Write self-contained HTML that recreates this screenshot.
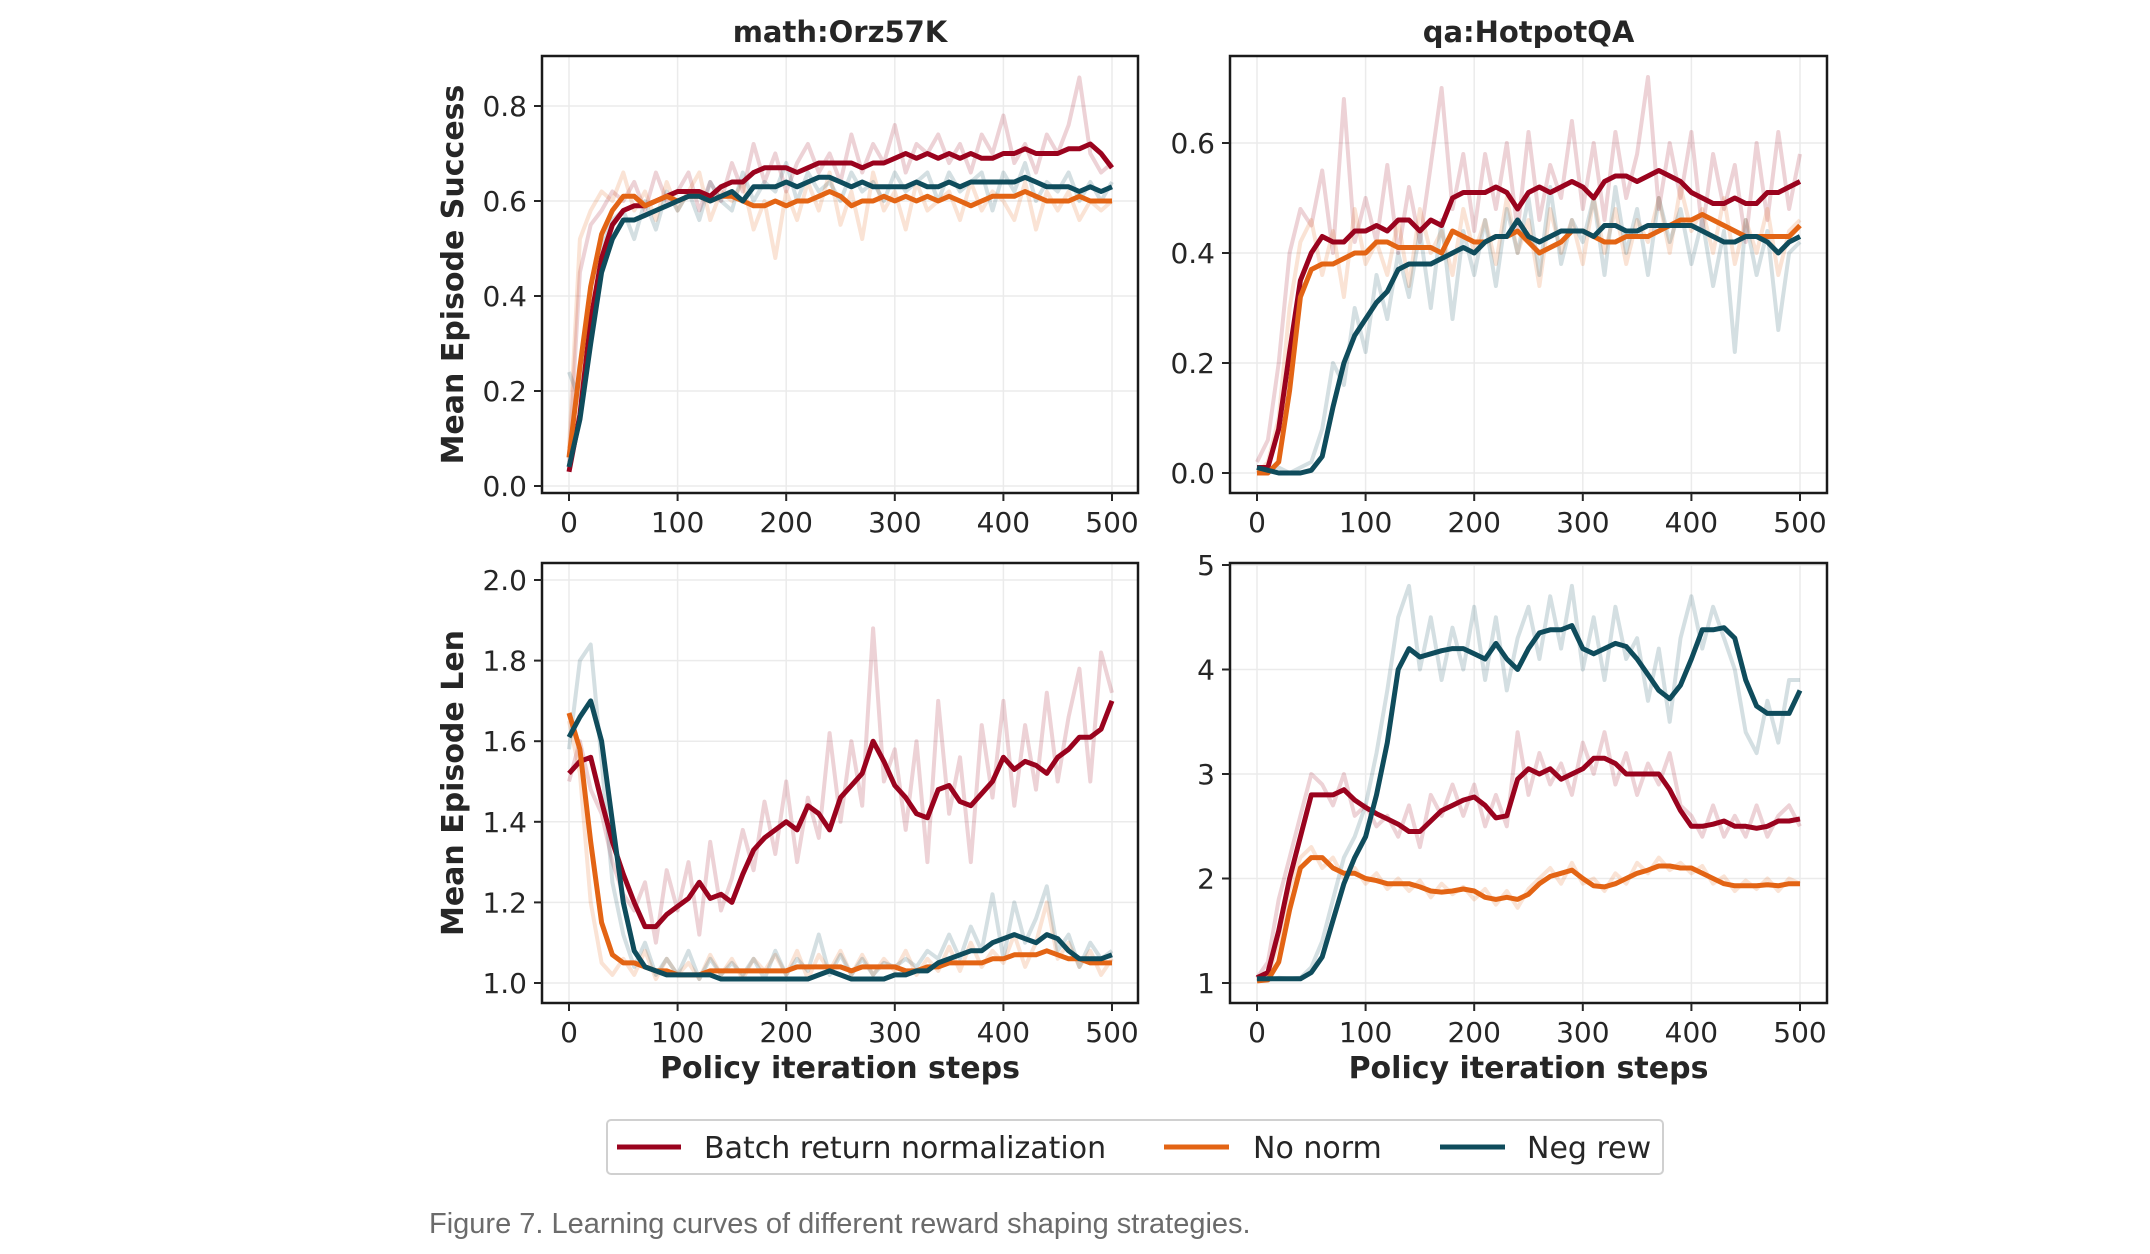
<!DOCTYPE html>
<html><head><meta charset="utf-8">
<style>
html,body{margin:0;padding:0;background:#fff;}
svg{display:block;}
text{font-family:"DejaVu Sans","Liberation Sans",sans-serif;fill:#262626;}
</style></head>
<body>
<svg id="fig" width="2150" height="1254" viewBox="0 0 2150 1254" xmlns="http://www.w3.org/2000/svg">
  <g id="legend">
    <rect x="607" y="1120" width="1056" height="54" rx="4" fill="#fff" stroke="#d0d0d0" stroke-width="2"/>
    <g>
      <line x1="617" y1="1147" x2="681" y2="1147" stroke="#9a031e" stroke-width="5"/>
      <text x="704" y="1158" font-size="30">Batch return normalization</text>
    </g>
    <g>
      <line x1="1164" y1="1147" x2="1229" y2="1147" stroke="#e36414" stroke-width="5"/>
      <text x="1253" y="1158" font-size="30">No norm</text>
    </g>
    <g>
      <line x1="1440" y1="1147" x2="1505" y2="1147" stroke="#0f4c5c" stroke-width="5"/>
      <text x="1527" y="1158" font-size="30">Neg rew</text>
    </g>
  </g>
  <text x="429" y="1233" font-size="29" style="font-family:'Liberation Sans',sans-serif;fill:#6b6b6b">Figure 7. Learning curves of different reward shaping strategies.</text>
</svg>
<script>
// x positions (steps) shared by all series
const steps = [0,10,20,30,40,50,60,70,80,90,100,110,120,130,140,150,160,170,180,190,200,210,220,230,240,250,260,270,280,290,300,310,320,330,340,350,360,370,380,390,400,410,420,430,440,450,460,470,480,490,500];
const xTicks = [0,100,200,300,400,500];

// math:Orz57K success
const tlRed = [0.03,0.15,0.35,0.48,0.55,0.58,0.59,0.59,0.60,0.61,0.62,0.62,0.62,0.61,0.63,0.64,0.64,0.66,0.67,0.67,0.67,0.66,0.67,0.68,0.68,0.68,0.68,0.67,0.68,0.68,0.69,0.70,0.69,0.70,0.69,0.70,0.69,0.70,0.69,0.69,0.70,0.70,0.71,0.70,0.70,0.70,0.71,0.71,0.72,0.70,0.67];
const tlOrange = [0.06,0.25,0.42,0.53,0.58,0.61,0.61,0.59,0.60,0.61,0.60,0.61,0.61,0.60,0.61,0.61,0.60,0.59,0.59,0.60,0.59,0.60,0.60,0.61,0.62,0.61,0.59,0.60,0.60,0.61,0.60,0.61,0.60,0.61,0.60,0.61,0.60,0.59,0.60,0.61,0.61,0.61,0.62,0.61,0.60,0.60,0.60,0.61,0.60,0.60,0.60];
const tlTeal = [0.04,0.14,0.30,0.45,0.52,0.56,0.56,0.57,0.58,0.59,0.60,0.61,0.61,0.60,0.61,0.62,0.60,0.63,0.63,0.63,0.64,0.63,0.64,0.65,0.65,0.64,0.63,0.64,0.63,0.63,0.63,0.63,0.64,0.63,0.63,0.64,0.63,0.64,0.64,0.64,0.64,0.64,0.65,0.64,0.63,0.63,0.63,0.62,0.63,0.62,0.63];
const tlRedRaw = [0.05,0.45,0.55,0.58,0.62,0.60,0.64,0.58,0.66,0.60,0.62,0.66,0.58,0.64,0.60,0.68,0.62,0.72,0.64,0.70,0.62,0.68,0.72,0.66,0.70,0.64,0.74,0.66,0.72,0.68,0.76,0.66,0.72,0.70,0.74,0.68,0.72,0.66,0.74,0.70,0.78,0.68,0.72,0.66,0.74,0.70,0.76,0.86,0.70,0.66,0.68];
const tlOrangeRaw = [0.08,0.52,0.58,0.62,0.60,0.66,0.58,0.62,0.56,0.64,0.58,0.62,0.66,0.56,0.62,0.60,0.64,0.54,0.60,0.48,0.62,0.56,0.64,0.58,0.66,0.55,0.62,0.52,0.66,0.58,0.62,0.54,0.64,0.58,0.60,0.62,0.56,0.64,0.58,0.62,0.60,0.56,0.64,0.54,0.62,0.58,0.62,0.56,0.60,0.58,0.60];
const tlTealRaw = [0.24,0.18,0.33,0.50,0.56,0.58,0.52,0.60,0.54,0.62,0.58,0.62,0.56,0.64,0.60,0.58,0.66,0.60,0.64,0.62,0.68,0.60,0.66,0.62,0.64,0.60,0.66,0.62,0.64,0.60,0.66,0.62,0.64,0.66,0.60,0.66,0.62,0.64,0.66,0.58,0.66,0.62,0.68,0.60,0.64,0.62,0.66,0.60,0.64,0.60,0.64];

// qa:HotpotQA success
const trRed = [0.01,0.01,0.08,0.22,0.35,0.40,0.43,0.42,0.42,0.44,0.44,0.45,0.44,0.46,0.46,0.44,0.46,0.45,0.50,0.51,0.51,0.51,0.52,0.51,0.48,0.51,0.52,0.51,0.52,0.53,0.52,0.50,0.53,0.54,0.54,0.53,0.54,0.55,0.54,0.53,0.51,0.50,0.49,0.49,0.50,0.49,0.49,0.51,0.51,0.52,0.53];
const trOrange = [0.0,0.0,0.02,0.15,0.32,0.37,0.38,0.38,0.39,0.40,0.40,0.42,0.42,0.41,0.41,0.41,0.41,0.40,0.44,0.43,0.42,0.42,0.43,0.43,0.44,0.42,0.40,0.41,0.42,0.44,0.44,0.43,0.42,0.42,0.43,0.43,0.43,0.44,0.45,0.46,0.46,0.47,0.46,0.45,0.44,0.43,0.43,0.43,0.43,0.43,0.45];
const trTeal = [0.01,0.005,0.0,0.0,0.0,0.005,0.03,0.12,0.20,0.25,0.28,0.31,0.33,0.37,0.38,0.38,0.38,0.39,0.40,0.41,0.40,0.42,0.43,0.43,0.46,0.43,0.42,0.43,0.44,0.44,0.44,0.43,0.45,0.45,0.44,0.44,0.45,0.45,0.45,0.45,0.45,0.44,0.43,0.42,0.42,0.43,0.43,0.42,0.40,0.42,0.43];
const trRedRaw = [0.02,0.06,0.20,0.40,0.48,0.45,0.55,0.40,0.68,0.42,0.50,0.42,0.56,0.40,0.52,0.42,0.56,0.70,0.48,0.58,0.44,0.58,0.48,0.60,0.44,0.62,0.46,0.56,0.50,0.64,0.48,0.60,0.46,0.62,0.50,0.58,0.72,0.48,0.60,0.50,0.62,0.44,0.58,0.48,0.56,0.42,0.60,0.46,0.62,0.48,0.58];
const trOrangeRaw = [0.0,0.02,0.10,0.30,0.42,0.46,0.36,0.44,0.32,0.48,0.38,0.42,0.36,0.46,0.34,0.48,0.40,0.44,0.36,0.48,0.40,0.46,0.38,0.50,0.40,0.46,0.34,0.48,0.40,0.46,0.38,0.50,0.40,0.48,0.38,0.46,0.42,0.50,0.40,0.52,0.44,0.48,0.40,0.50,0.38,0.46,0.40,0.48,0.36,0.44,0.46];
const trTealRaw = [0.01,0.0,0.01,0.0,0.01,0.02,0.08,0.20,0.16,0.30,0.22,0.36,0.28,0.40,0.32,0.44,0.30,0.46,0.28,0.44,0.36,0.46,0.34,0.48,0.40,0.50,0.36,0.52,0.38,0.46,0.42,0.50,0.36,0.52,0.40,0.48,0.36,0.50,0.42,0.48,0.38,0.46,0.34,0.44,0.22,0.46,0.36,0.44,0.26,0.40,0.42];

// math:Orz57K length
const blRed = [1.52,1.55,1.56,1.45,1.35,1.27,1.20,1.14,1.14,1.17,1.19,1.21,1.25,1.21,1.22,1.20,1.27,1.33,1.36,1.38,1.40,1.38,1.44,1.42,1.38,1.46,1.49,1.52,1.60,1.55,1.49,1.46,1.42,1.41,1.48,1.49,1.45,1.44,1.47,1.50,1.56,1.53,1.55,1.54,1.52,1.56,1.58,1.61,1.61,1.63,1.70];
const blOrange = [1.67,1.58,1.35,1.15,1.07,1.05,1.05,1.04,1.03,1.03,1.02,1.02,1.02,1.03,1.03,1.03,1.03,1.03,1.03,1.03,1.03,1.04,1.04,1.04,1.04,1.04,1.03,1.04,1.04,1.04,1.04,1.03,1.03,1.04,1.04,1.05,1.05,1.05,1.05,1.06,1.06,1.07,1.07,1.07,1.08,1.07,1.06,1.06,1.05,1.05,1.05];
const blTeal = [1.61,1.66,1.70,1.60,1.40,1.20,1.08,1.04,1.03,1.02,1.02,1.02,1.02,1.02,1.01,1.01,1.01,1.01,1.01,1.01,1.01,1.01,1.01,1.02,1.03,1.02,1.01,1.01,1.01,1.01,1.02,1.02,1.03,1.03,1.05,1.06,1.07,1.08,1.08,1.10,1.11,1.12,1.11,1.10,1.12,1.11,1.08,1.06,1.06,1.06,1.07];
const blRedRaw = [1.50,1.60,1.48,1.42,1.30,1.22,1.18,1.25,1.10,1.28,1.18,1.30,1.12,1.35,1.18,1.26,1.38,1.28,1.45,1.32,1.50,1.30,1.46,1.36,1.62,1.40,1.60,1.44,1.88,1.50,1.58,1.38,1.60,1.30,1.70,1.42,1.56,1.30,1.64,1.46,1.70,1.44,1.64,1.48,1.72,1.50,1.66,1.78,1.50,1.82,1.72];
const blOrangeRaw = [1.65,1.52,1.20,1.05,1.02,1.06,1.02,1.08,1.01,1.06,1.02,1.05,1.01,1.07,1.02,1.06,1.01,1.06,1.03,1.07,1.02,1.08,1.01,1.07,1.03,1.08,1.02,1.07,1.02,1.06,1.03,1.08,1.02,1.06,1.03,1.09,1.03,1.10,1.04,1.08,1.05,1.12,1.04,1.10,1.20,1.06,1.10,1.04,1.08,1.02,1.06];
const blTealRaw = [1.58,1.80,1.84,1.55,1.25,1.12,1.04,1.10,1.02,1.06,1.02,1.08,1.01,1.06,1.02,1.05,1.02,1.06,1.01,1.08,1.02,1.06,1.03,1.12,1.02,1.07,1.02,1.06,1.02,1.05,1.04,1.06,1.04,1.08,1.06,1.12,1.06,1.14,1.08,1.22,1.06,1.20,1.10,1.16,1.24,1.08,1.12,1.04,1.10,1.06,1.08];

// qa:HotpotQA length
const brRed = [1.05,1.1,1.5,2.0,2.4,2.8,2.8,2.8,2.85,2.75,2.68,2.62,2.57,2.52,2.45,2.45,2.55,2.65,2.70,2.75,2.78,2.70,2.58,2.60,2.95,3.05,3.00,3.05,2.95,3.00,3.05,3.15,3.15,3.10,3.00,3.00,3.00,3.00,2.85,2.65,2.50,2.50,2.52,2.55,2.50,2.50,2.48,2.50,2.55,2.55,2.57];
const brOrange = [1.02,1.03,1.2,1.7,2.1,2.2,2.2,2.1,2.05,2.05,2.00,1.98,1.95,1.95,1.95,1.92,1.88,1.87,1.88,1.90,1.88,1.82,1.80,1.82,1.80,1.85,1.95,2.02,2.05,2.08,2.00,1.93,1.92,1.95,2.00,2.05,2.08,2.12,2.12,2.10,2.10,2.05,2.00,1.95,1.93,1.93,1.93,1.94,1.93,1.95,1.95];
const brTeal = [1.04,1.04,1.04,1.04,1.04,1.10,1.25,1.60,1.95,2.20,2.40,2.80,3.30,4.00,4.20,4.12,4.15,4.18,4.20,4.20,4.15,4.10,4.25,4.10,4.00,4.20,4.35,4.38,4.38,4.42,4.20,4.15,4.20,4.25,4.22,4.10,3.95,3.80,3.72,3.85,4.10,4.38,4.38,4.40,4.30,3.90,3.65,3.58,3.58,3.58,3.80];
const brRedRaw = [1.05,1.2,1.8,2.2,2.6,3.0,2.9,2.7,3.0,2.6,2.7,2.5,2.6,2.4,2.7,2.3,2.8,2.6,2.9,2.6,2.9,2.5,2.8,2.5,3.4,2.8,3.2,2.9,3.1,2.8,3.3,3.0,3.4,2.9,3.2,2.8,3.1,2.9,3.2,2.7,2.6,2.4,2.7,2.4,2.6,2.4,2.7,2.4,2.6,2.7,2.5];
const brOrangeRaw = [1.02,1.05,1.4,1.9,2.2,2.3,2.1,2.2,2.0,2.1,1.95,2.05,1.90,2.00,1.88,1.98,1.82,1.95,1.85,1.92,1.80,1.90,1.75,1.88,1.72,1.90,2.00,2.10,1.95,2.15,1.95,2.00,1.88,2.05,1.95,2.15,2.05,2.20,2.08,2.15,2.05,2.12,1.95,2.02,1.88,1.98,1.90,2.00,1.88,2.00,1.95];
const brTealRaw = [1.04,1.03,1.05,1.04,1.05,1.15,1.4,1.8,2.2,2.4,2.7,3.2,3.8,4.5,4.8,4.0,4.5,3.9,4.4,4.0,4.6,3.9,4.5,3.8,4.3,4.6,4.1,4.7,4.2,4.8,4.0,4.5,3.9,4.6,4.1,4.3,3.7,4.2,3.5,4.3,4.7,4.2,4.6,4.3,4.0,3.4,3.2,3.7,3.3,3.9,3.9];

const yTicksSuccessMath = [0.0,0.2,0.4,0.6,0.8];
const yTicksSuccessQA = [0.0,0.2,0.4,0.6];
const yTicksLenMath = [1.0,1.2,1.4,1.6,1.8,2.0];
const yTicksLenQA = [1,2,3,4,5];

const NS = "http://www.w3.org/2000/svg";
const svg = document.getElementById('fig');
const COLORS = {red:'#9a031e', orange:'#e36414', teal:'#0f4c5c'};

function mk(tag, attrs, parent){
  const e = document.createElementNS(NS, tag);
  for (const k in attrs) e.setAttribute(k, attrs[k]);
  (parent||svg).appendChild(e);
  return e;
}

function panel(cfg){
  const g = mk('g', {});
  
  
  const sx = v => cfg.x0 + (v - 0) / 500 * (cfg.x500 - cfg.x0);
  const sy = v => cfg.yA + (v - cfg.vA) / (cfg.vB - cfg.vA) * (cfg.yB - cfg.yA);
  xTicks.forEach(t => {
    const l = mk('line', {x1:sx(t), x2:sx(t), y1:cfg.top, y2:cfg.bottom, stroke:'#ebebeb', 'stroke-width':1.5}, g);
    
    
  });
  cfg.yTicks.forEach(t => {
    const l = mk('line', {x1:cfg.left, x2:cfg.right, y1:sy(t), y2:sy(t), stroke:'#ebebeb', 'stroke-width':1.5}, g);
    
    
  });
  const cid = 'clip-' + cfg.name;
  const cp = mk('clipPath', {id:cid}, g);
  mk('rect', {x:cfg.left, y:cfg.top, width:cfg.right-cfg.left, height:cfg.bottom-cfg.top}, cp);
  const plot = mk('g', {'clip-path':'url(#'+cid+')'}, g);
  const pathD = arr => arr.map((v,i) => (i?'L':'M') + sx(steps[i]).toFixed(1) + ' ' + sy(v).toFixed(1)).join(' ');
  cfg.series.forEach(s => {
    const r = mk('path', {d:pathD(s.raw), fill:'none', stroke:COLORS[s.c], 'stroke-opacity':0.18, 'stroke-width':4, 'stroke-linejoin':'round'}, plot);
    
    
  });
  cfg.series.forEach(s => {
    const p = mk('path', {d:pathD(s.smooth), fill:'none', stroke:COLORS[s.c], 'stroke-width':5, 'stroke-linejoin':'round'}, plot);
    
    
  });
  const f = mk('rect', {x:cfg.left, y:cfg.top, width:cfg.right-cfg.left, height:cfg.bottom-cfg.top, fill:'none', stroke:'#1a1a1a', 'stroke-width':2.5}, g);
  
  
  xTicks.forEach(t => {
    mk('line', {x1:sx(t), x2:sx(t), y1:cfg.bottom, y2:cfg.bottom+8, stroke:'#262626', 'stroke-width':2}, g);
    const tx = mk('text', {x:sx(t), y:cfg.bottom+39, 'font-size':28, 'text-anchor':'middle'}, g);
    tx.textContent = t;
    
    
  });
  cfg.yTicks.forEach(t => {
    mk('line', {x1:cfg.left-8, x2:cfg.left, y1:sy(t), y2:sy(t), stroke:'#262626', 'stroke-width':2}, g);
    const ty = mk('text', {x:cfg.left-15, y:sy(t)+10, 'font-size':28, 'text-anchor':'end'}, g);
    ty.textContent = cfg.fmt(t);
    
    
  });
  if (cfg.title){
    const tt = mk('text', {x:(cfg.left+cfg.right)/2, y:42, 'font-size':29, 'font-weight':'bold', 'text-anchor':'middle'}, g);
    tt.textContent = cfg.title;
    
    
  }
  if (cfg.ylabel){
    const cy = (cfg.top+cfg.bottom)/2;
    const yl = mk('text', {x:463, y:cy, 'font-size':30, 'font-weight':'bold', 'text-anchor':'middle', transform:'rotate(-90 463 '+cy+')'}, g);
    yl.textContent = cfg.ylabel;
    
    
  }
  if (cfg.xlabel){
    const xl = mk('text', {x:(cfg.left+cfg.right)/2, y:1078, 'font-size':30, 'font-weight':'bold', 'text-anchor':'middle'}, g);
    xl.textContent = cfg.xlabel;
    
    
  }
}

const f1 = v => v.toFixed(1);
const f0 = v => String(v);

panel({name:'panel-math-success', left:542, right:1138, top:56, bottom:493, x0:569, x500:1112,
  vA:0, yA:486, vB:0.8, yB:106, yTicks:yTicksSuccessMath, fmt:f1, title:'math:Orz57K', ylabel:'Mean Episode Success',
  series:[{c:'red',label:'batch-norm',smooth:tlRed,raw:tlRedRaw},{c:'orange',label:'no-norm',smooth:tlOrange,raw:tlOrangeRaw},{c:'teal',label:'neg-rew',smooth:tlTeal,raw:tlTealRaw}]});
panel({name:'panel-qa-success', left:1230, right:1827, top:56, bottom:493, x0:1257, x500:1800,
  vA:0, yA:473, vB:0.6, yB:143, yTicks:yTicksSuccessQA, fmt:f1, title:'qa:HotpotQA',
  series:[{c:'red',label:'batch-norm',smooth:trRed,raw:trRedRaw},{c:'orange',label:'no-norm',smooth:trOrange,raw:trOrangeRaw},{c:'teal',label:'neg-rew',smooth:trTeal,raw:trTealRaw}]});
panel({name:'panel-math-len', left:542, right:1138, top:563, bottom:1003, x0:569, x500:1112,
  vA:1.0, yA:983, vB:2.0, yB:580, yTicks:yTicksLenMath, fmt:f1, ylabel:'Mean Episode Len', xlabel:'Policy iteration steps',
  series:[{c:'red',label:'batch-norm',smooth:blRed,raw:blRedRaw},{c:'orange',label:'no-norm',smooth:blOrange,raw:blOrangeRaw},{c:'teal',label:'neg-rew',smooth:blTeal,raw:blTealRaw}]});
panel({name:'panel-qa-len', left:1230, right:1827, top:563, bottom:1003, x0:1257, x500:1800,
  vA:1, yA:983, vB:5, yB:565, yTicks:yTicksLenQA, fmt:f0, xlabel:'Policy iteration steps',
  series:[{c:'red',label:'batch-norm',smooth:brRed,raw:brRedRaw},{c:'orange',label:'no-norm',smooth:brOrange,raw:brOrangeRaw},{c:'teal',label:'neg-rew',smooth:brTeal,raw:brTealRaw}]});
</script>
</body></html>
